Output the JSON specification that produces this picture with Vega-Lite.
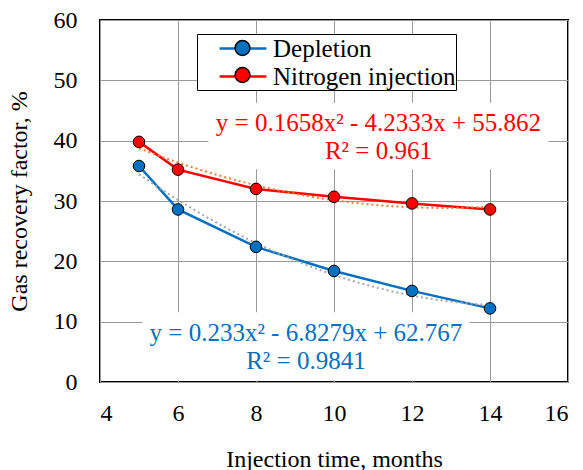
{
  "$schema": "https://vega.github.io/schema/vega-lite/v6.json",
  "width": 468,
  "height": 362,
  "autosize": "none",
  "padding": {"left": 100, "top": 20, "right": 15, "bottom": 88},
  "background": "white",
  "config": {
    "view": {"stroke": "black", "strokeWidth": 2},
    "axis": {
      "domain": false,
      "ticks": false,
      "gridColor": "#9a9a9a",
      "gridWidth": 1
    }
  },
  "datasets": {
    "obs": [
      {"time": 5, "rf": 35.8, "series": "Depletion"},
      {"time": 6, "rf": 28.6, "series": "Depletion"},
      {"time": 8, "rf": 22.4, "series": "Depletion"},
      {"time": 10, "rf": 18.4, "series": "Depletion"},
      {"time": 12, "rf": 15.1, "series": "Depletion"},
      {"time": 14, "rf": 12.2, "series": "Depletion"},
      {"time": 5, "rf": 39.8, "series": "Nitrogen injection"},
      {"time": 6, "rf": 35.2, "series": "Nitrogen injection"},
      {"time": 8, "rf": 32.0, "series": "Nitrogen injection"},
      {"time": 10, "rf": 30.7, "series": "Nitrogen injection"},
      {"time": 12, "rf": 29.6, "series": "Nitrogen injection"},
      {"time": 14, "rf": 28.6, "series": "Nitrogen injection"}
    ],
    "labels": [
      {"time": 11.14, "rf": 42.85, "text": "y = 0.1658x² - 4.2333x + 55.862", "series": "Nitrogen injection", "line": "eq"},
      {"time": 11.14, "rf": 38.37, "text": "R² = 0.961", "series": "Nitrogen injection", "line": "r2"},
      {"time": 9.28, "rf": 8.1, "text": "y = 0.233x² - 6.8279x + 62.767", "series": "Depletion", "line": "eq"},
      {"time": 9.28, "rf": 3.5, "text": "R² = 0.9841", "series": "Depletion", "line": "r2"}
    ]
  },
  "encoding": {
    "x": {
      "field": "time", "type": "quantitative",
      "scale": {"domain": [4, 16], "nice": false, "zero": false},
      "axis": {"values": [4, 6, 8, 10, 12, 14, 16], "title": "Injection time, months", "labelFont": "Liberation Serif", "titleFont": "Liberation Serif", "labelFontSize": 24, "titleFontSize": 24, "titleFontWeight": "normal", "labelColor": "black", "titleColor": "black", "labelPadding": 19, "titlePadding": 22}
    },
    "y": {
      "field": "rf", "type": "quantitative",
      "scale": {"domain": [0, 60], "nice": false},
      "axis": {"values": [0, 10, 20, 30, 40, 50, 60], "title": "Gas recovery factor, %", "labelFont": "Liberation Serif", "titleFont": "Liberation Serif", "labelFontSize": 24, "titleFontSize": 24, "titleFontWeight": "normal", "labelColor": "black", "titleColor": "black", "labelPadding": 23, "titlePadding": 22}
    }
  },
  "layer": [
    {
      "data": {"name": "labels"},
      "transform": [{"filter": "datum.series === 'Nitrogen injection' && datum.line === 'eq'"}],
      "mark": {"type": "point", "shape": "M-1,-0.12 L1,-0.12 L1,0.27 L-1,0.27 Z", "size": 115600, "filled": true, "fill": "white", "stroke": null, "opacity": 1}
    },
    {
      "data": {"name": "labels"},
      "transform": [{"filter": "datum.series === 'Depletion' && datum.line === 'eq'"}],
      "mark": {"type": "point", "shape": "M-1,-0.128 L1,-0.128 L1,0.29 L-1,0.29 Z", "size": 106929, "filled": true, "fill": "white", "stroke": null, "opacity": 1}
    },
    {
      "data": {"name": "obs"},
      "mark": {"type": "line", "strokeWidth": 2.5},
      "encoding": {
        "color": {
          "field": "series", "type": "nominal",
          "scale": {"domain": ["Depletion", "Nitrogen injection"], "range": ["#0070C0", "#FF0000"]},
          "legend": {
            "title": null,
            "values": ["Depletion", "Nitrogen injection"],
            "orient": "none",
            "legendX": 97,
            "legendY": 14,
            "strokeColor": "black",
            "fillColor": "white",
            "padding": 0,
            "labelFont": "Liberation Serif",
            "labelFontSize": 25,
            "labelColor": "black",
            "labelLimit": 400,
            "labelOffset": 15.5,
            "rowPadding": -2,
            "symbolType": "M-1.8,0 L-0.5,0 M0.5,0 L1.8,0",
            "symbolSize": 676,
            "symbolOffset": 31.5,
            "symbolStrokeWidth": 2.5,
            "encode": {"symbols": {"update": {"stroke": {"scale": "color", "field": "value"}, "strokeWidth": {"value": 2.5}, "fill": {"value": "transparent"}}}}
          }
        }
      }
    },
    {
      "data": {"name": "obs"},
      "transform": [
        {"regression": "rf", "on": "time", "groupby": ["series"], "method": "poly", "order": 2, "extent": [5, 14]}
      ],
      "mark": {"type": "line", "strokeWidth": 2, "strokeDash": [2, 3]},
      "encoding": {
        "stroke": {
          "field": "series", "type": "nominal",
          "scale": {"domain": ["Depletion", "Nitrogen injection"], "range": ["#A5A5A5", "#ED7D31"]},
          "legend": null
        }
      }
    },
    {
      "data": {"name": "obs"},
      "mark": {"type": "point", "filled": true, "size": 135, "stroke": "black", "strokeWidth": 1, "opacity": 1},
      "encoding": {
        "fill": {
          "field": "series", "type": "nominal",
          "scale": {"domain": ["Nitrogen injection", "Depletion"], "range": ["#FF0000", "#0070C0"]},
          "legend": {
            "title": null,
            "values": ["Depletion", "Nitrogen injection"],
            "orient": "none",
            "legendX": 97,
            "legendY": 14,
            "strokeColor": "transparent",
            "fillColor": "transparent",
            "padding": 0,
            "labelFont": "Liberation Serif",
            "labelFontSize": 25,
            "labelColor": "transparent",
            "labelLimit": 400,
            "labelOffset": 15.5,
            "rowPadding": -2,
            "symbolType": "M-0.57,0 A0.57,0.57 0 1,1 0.57,0 A0.57,0.57 0 1,1 -0.57,0 Z",
            "symbolSize": 676,
            "symbolOffset": 31.5,
            "encode": {"symbols": {"update": {"fill": {"scale": "fill", "field": "value"}, "stroke": {"value": "black"}, "strokeWidth": {"value": 1}, "opacity": {"value": 1}}}}
          }
        }
      }
    },
    {
      "data": {"name": "labels"},
      "transform": [{"filter": "datum.series === 'Nitrogen injection'"}],
      "mark": {"type": "text", "fontSize": 25, "font": "Liberation Serif", "fill": "#FF0000"},
      "encoding": {
        "text": {"field": "text"}
      }
    },
    {
      "data": {"name": "labels"},
      "transform": [{"filter": "datum.series === 'Depletion'"}],
      "mark": {"type": "text", "fontSize": 25, "font": "Liberation Serif", "fill": "#0070C0"},
      "encoding": {
        "text": {"field": "text"}
      }
    }
  ]
}
